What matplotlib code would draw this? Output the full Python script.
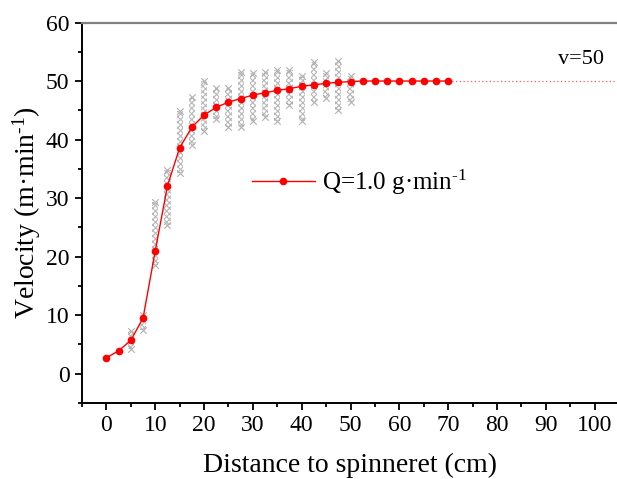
import numpy as np
import matplotlib
matplotlib.use("Agg")
import matplotlib.pyplot as plt
from matplotlib.ticker import MultipleLocator

# mean velocity along the spinline
distance = [0, 2.5, 5, 7.5, 10, 12.5, 15, 17.5, 20, 22.5, 25, 27.5, 30, 32.5, 35,
            37.5, 40, 42.5, 45, 47.5, 50, 52.5, 55, 57.5, 60, 62.5, 65, 67.5, 70]
velocity = [2.7, 3.9, 5.7, 9.5, 21.0, 32.1, 38.6, 42.1, 44.2, 45.5, 46.4, 47.0, 47.6,
            48.0, 48.4, 48.7, 49.1, 49.35, 49.6, 49.8, 49.9, 50, 50, 50, 50, 50, 50, 50, 50]

# spread of the individual measurements (grey crosses)
band_x = [5, 7.5, 10, 12.5, 15, 17.5, 20, 22.5, 25, 27.5, 30, 32.5, 35, 37.5, 40,
          42.5, 45, 47.5, 50]
band_lo = [4.2, 7.5, 18.5, 25.4, 34.3, 39.1, 41.4, 43.5, 42.2, 42.2, 43.1, 43.9, 43.1,
           45.9, 43.1, 46.5, 47.1, 45.1, 46.5]
band_hi = [7.3, 10.0, 29.4, 34.8, 44.8, 47.2, 50.0, 48.8, 48.8, 51.6, 51.3, 51.6, 51.9,
           51.8, 50.8, 53.2, 51.3, 53.5, 50.8]

v_final = 50

plt.rcParams['font.family'] = ['Liberation Serif', 'DejaVu Serif']
plt.rcParams['mathtext.fontset'] = 'custom'
plt.rcParams['mathtext.rm'] = 'Liberation Serif'
plt.rcParams['mathtext.it'] = 'Liberation Serif:italic'
plt.rcParams['hatch.linewidth'] = 0.8

fig = plt.figure(figsize=(6.17, 4.79), dpi=100)
ax = fig.add_axes([0.133, 0.159, 0.867, 0.794])

heights = np.array(band_hi) - np.array(band_lo)
ax.bar(band_x, heights, bottom=band_lo, width=1.3, fill=False, hatch='xxxxxx',
       edgecolor='#b8b8b8', linewidth=0, zorder=1)
ax.scatter(band_x + band_x, band_lo + band_hi, marker='x', s=22, lw=0.8,
           color='#b0b0b0', zorder=1)

ax.plot(distance, velocity, color='red', lw=1.0, marker='o', ms=4.5,
        label='Q=1.0 g·min$^{\\text{-1}}$', zorder=3)
ax.plot([distance[-1], 105], [v_final, v_final], color='#f06060', lw=0.9,
        ls=(0, (1, 2)), zorder=2)
ax.text(102, 52.0, 'v=50', fontsize=16, ha='right', va='bottom')

ax.set_xlim(-5, 104.6)
ax.set_ylim(-5, 60)
ax.xaxis.set_major_locator(MultipleLocator(10))
ax.xaxis.set_minor_locator(MultipleLocator(5))
ax.yaxis.set_major_locator(MultipleLocator(10))
ax.yaxis.set_minor_locator(MultipleLocator(5))
ax.tick_params(which='both', direction='out', width=1.3, labelsize=17)
ax.tick_params(which='major', length=5, pad=4)
ax.tick_params(which='minor', length=3)

for side in ['left', 'bottom']:
    ax.spines[side].set_linewidth(1.4)
ax.spines['top'].set_color('#808080')
ax.spines['top'].set_linewidth(1.6)
ax.spines['right'].set_visible(False)

ax.set_xlabel('Distance to spinneret (cm)', fontsize=20, labelpad=12)
ax.set_ylabel('Velocity (m·min$^{\\text{-1}}$)', fontsize=20, labelpad=2)

ax.legend(loc='center left', bbox_to_anchor=(0.318, 0.581), frameon=False,
          fontsize=18, handlelength=2.5, handletextpad=0.3,
          borderpad=0, borderaxespad=0)

fig.savefig('out.png', dpi=100)
